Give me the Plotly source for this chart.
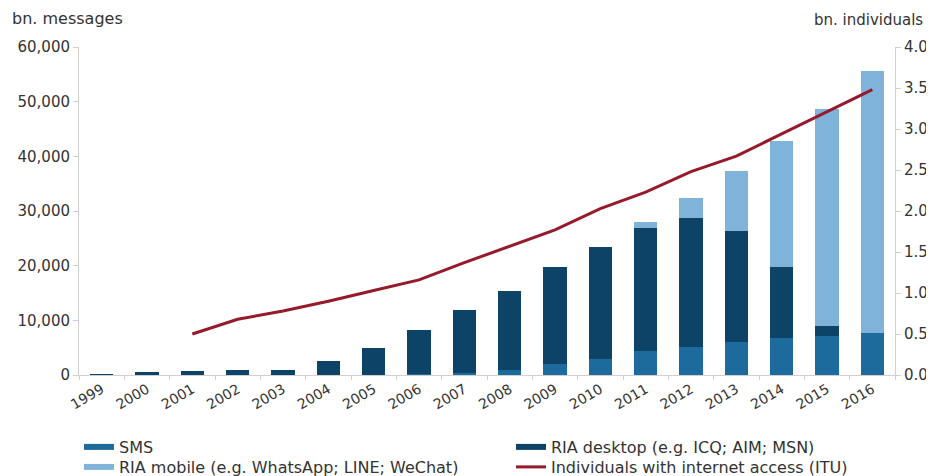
import plotly.graph_objects as go

years = [str(y) for y in range(1999, 2017)]
sms = [0, 0, 0, 0, 0, 0, 0, 100, 300, 900, 2000, 3000, 4400, 5200, 6000, 6800, 7200, 7600]
ria_desktop = [100, 600, 700, 850, 850, 2600, 4850, 8100, 11600, 14500, 17800, 20450, 22550, 23550, 20400, 12900, 1800, 0]
ria_mobile = [0, 0, 0, 0, 0, 0, 0, 0, 0, 0, 0, 0, 1100, 3550, 10950, 23150, 39650, 48000]
internet_users = [None, None, 0.50, 0.68, 0.78, 0.90, 1.03, 1.16, 1.37, 1.57, 1.77, 2.03, 2.23, 2.48, 2.67, 2.94, 3.21, 3.48]

names = ["SMS", "RIA desktop (e.g. ICQ; AIM; MSN)", "RIA mobile (e.g. WhatsApp; LINE; WeChat)",
         "Individuals with internet access (ITU)"]

C_SMS = "#1d6a9c"
C_DESK = "#0c4366"
C_MOB = "#80b3da"
C_LINE = "#941a2c"
FONT = "DejaVu Sans, Liberation Sans, Arial, sans-serif"
TXT = "#333333"

# the page body has an 8px margin; the figure is sized so that it ends at the window edge
OFF = 8
W, H = 934 - OFF, 476 - OFF
PL, PR, PT, PB = 79 - OFF, 895 - OFF, 47 - OFF, 375 - OFF  # plot area in figure pixels
PW, PH = PR - PL, PB - PT

fig = go.Figure()
fig.add_bar(x=years, y=sms, name=names[0], marker_color=C_SMS, marker_line_width=0, showlegend=False)
fig.add_bar(x=years, y=ria_desktop, name=names[1], marker_color=C_DESK, marker_line_width=0, showlegend=False)
fig.add_bar(x=years, y=ria_mobile, name=names[2], marker_color=C_MOB, marker_line_width=0, showlegend=False)
fig.add_scatter(x=years, y=internet_users, name=names[3], mode="lines",
                line=dict(color=C_LINE, width=3), yaxis="y2", legend="legend4")

# legend entries for the bar series drawn with wide swatches, as in the original
for nm, col, lg in [(names[0], C_SMS, "legend"), (names[1], C_DESK, "legend2"), (names[2], C_MOB, "legend3")]:
    fig.add_scatter(x=[None], y=[None], name=nm, mode="lines", line=dict(color=col, width=6),
                    legend=lg, hoverinfo="skip")


def leg(x_text, y_center):
    x_text -= OFF
    y_center -= OFF
    return dict(xref="container", yref="container", x=(x_text - 39) / W, xanchor="left",
                y=1 - y_center / H, yanchor="middle", bgcolor="rgba(0,0,0,0)",
                font=dict(size=16, color=TXT, family=FONT), itemwidth=30)


fig.update_layout(
    width=W, height=H,
    margin=dict(l=PL, r=W - PR, t=PT, b=H - PB, autoexpand=False),
    paper_bgcolor="white", plot_bgcolor="white",
    barmode="stack", bargap=0.49,
    font=dict(family=FONT, size=14, color=TXT),
    showlegend=True,
    legend=leg(118, 447),
    legend2=leg(550, 447),
    legend3=leg(118, 467),
    legend4=leg(550, 467),
    xaxis=dict(type="category", showline=True, linecolor="#d0d0d0", linewidth=1, automargin=False,
               ticks="outside", tickson="boundaries", ticklen=4, tickcolor="#d0d0d0",
               tickangle=-30, tickfont=dict(size=14, color=TXT), showgrid=False),
    yaxis=dict(range=[0, 60000], dtick=10000, tickformat=",d", showgrid=False, zeroline=False,
               showline=True, linecolor="#d0d0d0", linewidth=1, ticks="outside", ticklen=5,
               tickcolor="#d0d0d0", tickfont=dict(size=15, color=TXT), automargin=False),
    yaxis2=dict(range=[0, 4], dtick=0.5, tickformat=".1f", overlaying="y", side="right",
                showgrid=False, zeroline=False, showline=True, linecolor="#d0d0d0", linewidth=1,
                ticks="outside", ticklen=5, tickcolor="#d0d0d0", tickfont=dict(size=15, color=TXT),
                automargin=False),
    annotations=[
        dict(text="bn. messages", xref="paper", yref="paper", x=(10 - 79) / PW, y=1 + 29 / PH,
             xanchor="left", yanchor="middle", showarrow=False, font=dict(size=16, color=TXT)),
        dict(text="bn. individuals", xref="paper", yref="paper", x=1 + 30 / PW, y=1 + 27 / PH,
             xanchor="right", yanchor="middle", showarrow=False, font=dict(size=15, color=TXT)),
    ],
)

fig.write_html("out.html")
